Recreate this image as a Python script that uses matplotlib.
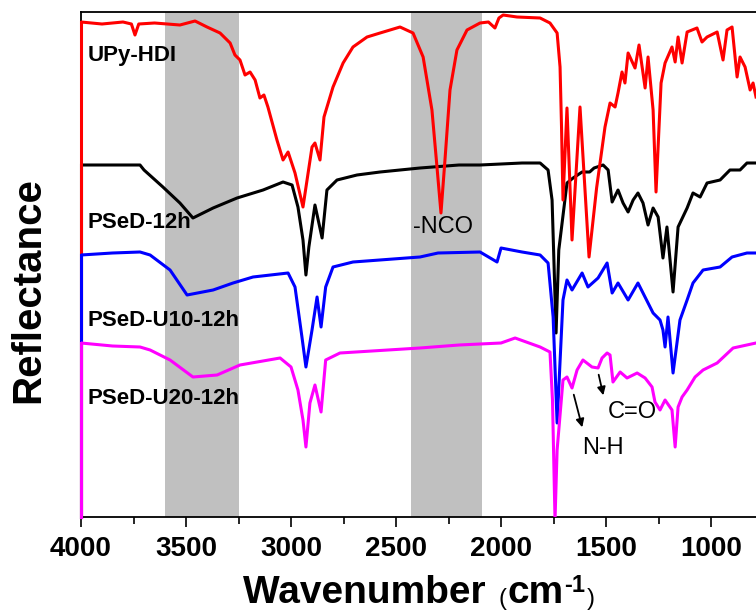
import matplotlib
matplotlib.use("Agg")
import matplotlib.pyplot as plt

plt.rcParams['font.family'] = ['Liberation Sans', 'DejaVu Sans']

# ---------------- data (wavenumber cm-1, reflectance a.u., stacked) ----------------
upy_w = [4000, 3900, 3800, 3760, 3743, 3725, 3650, 3529, 3457, 3400, 3338, 3290, 3267, 3243,
         3219, 3195, 3171, 3148, 3129, 3110, 3067, 3038, 3014, 2981, 2943, 2900, 2886, 2862,
         2843, 2800, 2752, 2705, 2638, 2576, 2481, 2419, 2371, 2329, 2305, 2286, 2267, 2243,
         2210, 2162, 2100, 2060, 2029, 2010, 1990, 1924, 1814, 1767, 1733, 1719, 1712, 1705,
         1686, 1662, 1624, 1581, 1545, 1505, 1481, 1457, 1443, 1424, 1410, 1395, 1362, 1343,
         1314, 1300, 1276, 1262, 1238, 1219, 1186, 1171, 1157, 1138, 1114, 1067, 1043, 1019,
         971, 943, 924, 900, 876, 862, 838, 814, 800, 786]
upy_r = [495, 493, 495, 493, 482, 493, 494, 492, 496, 490, 484, 474, 462, 457,
         442, 445, 437, 419, 422, 410, 377, 357, 365, 344, 310, 370, 374, 357,
         400, 430, 454, 470, 480, 484, 490, 484, 460, 407, 350, 304, 357, 427,
         467, 487, 494, 495, 489, 499, 502, 500, 499, 494, 484, 450, 390, 317,
         409, 277, 410, 260, 329, 390, 414, 410, 424, 445, 434, 464, 449, 472,
         429, 460, 407, 325, 434, 454, 470, 455, 480, 454, 485, 489, 475, 480,
         485, 457, 487, 490, 440, 460, 450, 427, 434, 420]

psed_w = [4000, 3850, 3719, 3700, 3610, 3529, 3467, 3371, 3257, 3133, 3038, 2995, 2967, 2943,
          2929, 2915, 2886, 2852, 2829, 2781, 2686, 2576, 2386, 2200, 2100, 1900, 1814, 1776,
          1757, 1745, 1738, 1725, 1686, 1657, 1614, 1578, 1557, 1514, 1490, 1471, 1443, 1419,
          1395, 1371, 1348, 1324, 1300, 1276, 1252, 1229, 1210, 1181, 1157, 1114, 1086, 1052,
          1019, 957, 910, 862, 829, 786]
psed_r = [352, 352, 352, 347, 330, 314, 299, 309, 319, 327, 335, 332, 310, 277,
          242, 270, 312, 279, 327, 337, 342, 345, 349, 352, 352, 354, 354, 347,
          317, 234, 184, 267, 334, 339, 345, 345, 349, 352, 347, 315, 327, 314,
          305, 317, 324, 314, 292, 309, 300, 259, 290, 225, 290, 309, 324, 320,
          334, 337, 347, 347, 354, 354]

u10_w = [4000, 3850, 3719, 3671, 3576, 3495, 3371, 3276, 3181, 3014, 2981, 2948, 2929, 2900,
         2876, 2857, 2835, 2800, 2705, 2386, 2300, 2100, 2019, 2000, 1900, 1814, 1776, 1752,
         1733, 1705, 1686, 1662, 1614, 1586, 1538, 1495, 1471, 1443, 1395, 1348, 1300, 1276,
         1243, 1229, 1219, 1205, 1181, 1148, 1114, 1086, 1038, 957, 900, 829, 786]
u10_r = [262, 264, 265, 262, 247, 222, 227, 234, 240, 244, 230, 180, 150, 187,
         220, 190, 230, 250, 255, 260, 264, 265, 255, 269, 265, 262, 254, 200,
         94, 217, 237, 227, 244, 230, 239, 254, 224, 234, 217, 234, 214, 204,
         197, 187, 170, 200, 144, 197, 217, 234, 247, 250, 260, 264, 264]

u20_w = [4000, 3850, 3719, 3671, 3576, 3467, 3352, 3243, 3052, 3000, 2967, 2943, 2929, 2910,
         2886, 2857, 2835, 2767, 2386, 2200, 2000, 1933, 1814, 1767, 1755, 1743, 1733, 1705,
         1686, 1662, 1638, 1610, 1567, 1538, 1519, 1495, 1481, 1467, 1433, 1400, 1352, 1314,
         1281, 1267, 1243, 1219, 1186, 1171, 1157, 1138, 1114, 1076, 1038, 971, 895, 786]
u20_r = [174, 171, 170, 167, 157, 140, 142, 152, 159, 150, 127, 97, 70, 114,
         132, 105, 157, 164, 169, 172, 174, 179, 170, 165, 117, -3, 67, 137,
         140, 129, 147, 157, 150, 149, 159, 164, 162, 135, 145, 139, 144, 139,
         130, 115, 107, 117, 107, 70, 110, 120, 127, 140, 147, 154, 169, 174]

series = [
    ("PSeD-12h", psed_w, psed_r, "black"),
    ("UPy-HDI", upy_w, upy_r, "red"),
    ("PSeD-U10-12h", u10_w, u10_r, "blue"),
    ("PSeD-U20-12h", u20_w, u20_r, "magenta"),
]
bands = [(3600, 3250), (2430, 2090)]
xticks_major = [4000, 3500, 3000, 2500, 2000, 1500, 1000]
xticks_minor = [3750, 3250, 2750, 2250, 1750, 1250]

# ---------------- figure ----------------
W, H = 756, 611
fig = plt.figure(figsize=(W / 100, H / 100), dpi=100)
ax = fig.add_axes([81 / W, 94 / H, 1 - 81 / W, (517 - 12) / H])
ax.set_xlim(4000, 786)
ax.set_ylim(0, 505)

for lo, hi in bands:
    ax.axvspan(lo, hi, color='#c0c0c0', lw=0, zorder=0)

for i, (name, w, r, c) in enumerate(series):
    ax.plot(w, r, color=c, lw=2.2, zorder=3 + i, solid_joinstyle='round')
    ax.plot([w[0], w[0]], [r[0], 0], color=c, lw=2.2, zorder=3 + i, clip_on=False)

# sample labels
lab_kw = dict(fontsize=16, fontweight='bold', va='center', ha='left', zorder=10)
ax.text(3970, 462, "UPy-HDI", **lab_kw)
ax.text(3970, 294, "PSeD-12h", **lab_kw)
ax.text(3970, 197, "PSeD-U10-12h", **lab_kw)
ax.text(3970, 119, "PSeD-U20-12h", **lab_kw)

ax.text(2419, 290, "-NCO", fontsize=17, va='center', ha='left', zorder=10)
ax.text(1490, 105, "C=O", fontsize=17, va='center', ha='left', zorder=10)
ax.text(1614, 69, "N-H", fontsize=17, va='center', ha='left', zorder=10)
ax.annotate("", xy=(1610, 87), xytext=(1657, 125),
            arrowprops=dict(arrowstyle='-|>', color='black', lw=1.3, mutation_scale=12), zorder=10)
ax.annotate("", xy=(1510, 119), xytext=(1538, 145),
            arrowprops=dict(arrowstyle='-|>', color='black', lw=1.3, mutation_scale=12), zorder=10)

# axes styling
ax.spines['right'].set_visible(False)
for s in ['left', 'top', 'bottom']:
    ax.spines[s].set_linewidth(1.3)
ax.set_yticks([])
ax.set_xticks(xticks_major)
ax.set_xticks(xticks_minor, minor=True)
ax.tick_params(axis='x', which='major', direction='out', length=7.5, width=1.2,
               labelsize=20, pad=6, top=False)
ax.tick_params(axis='x', which='minor', direction='out', length=5, width=1.2, top=False)
for lab in ax.get_xticklabels():
    lab.set_fontweight('bold')

# x label built from pieces: "Wavenumber (cm-1)" with small parentheses and superscript
renderer = fig.canvas.get_renderer()
pieces = [("Wavenumber ", 28, 'bold', 0, 2),
          ("(", 17, 'normal', -2, 1),
          ("cm", 28, 'bold', 0, 1),
          ("-1", 17, 'bold', 11, 2),
          (")", 17, 'normal', -2, 0)]
base_py = 603
objs = []
total = 0
for txt, fs, fw, rise, gap in pieces:
    t = fig.text(0, (H - base_py + rise) / H, txt, fontsize=fs, fontweight=fw,
                 va='baseline', ha='left')
    wpx = t.get_window_extent(renderer).width
    objs.append((t, wpx, gap))
    total += wpx + gap
x = 419 - total / 2
for t, wpx, gap in objs:
    t.set_x(x / W)
    x += wpx + gap

fig.text(28 / W, 1 - 290 / H, "Reflectance", rotation=90, fontsize=29, fontweight='bold',
         va='center', ha='center')

fig.savefig("out.png", dpi=100)
